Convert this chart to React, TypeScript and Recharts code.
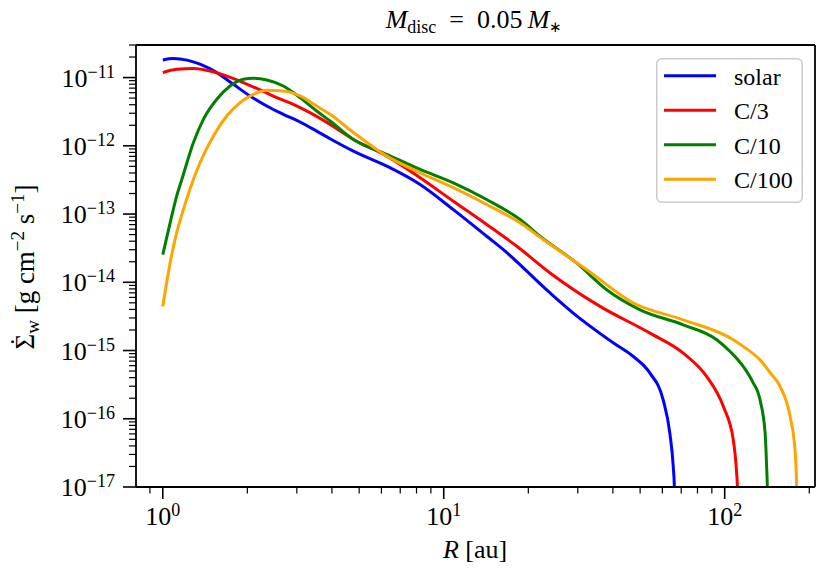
import { LineChart, Line, XAxis, YAxis, Legend, ReferenceLine } from 'recharts'

// R [au] and wind surface density rate [g cm^-2 s^-1]
const solarR = [1.0, 1.09, 1.22, 1.357, 1.557, 1.783, 2.045, 2.345, 2.686, 3.08, 3.53, 3.94, 4.77, 6.27, 8.24, 10.82, 14.22, 16.3, 23.9, 28.9, 40.2, 47.3, 54.2, 60.4, 63.8, 65.6, 66.2, 66.5]
const solarS = [1.81e-11, 1.9e-11, 1.8e-11, 1.57e-11, 1.18e-11, 7.97e-12, 5.37e-12, 3.83e-12, 2.89e-12, 2.23e-12, 1.64e-12, 1.27e-12, 8.36e-13, 5.04e-13, 2.71e-13, 1.16e-13, 4.72e-14, 3.01e-14, 6.97e-15, 3.54e-15, 1.29e-15, 8.17e-16, 4.66e-16, 1.89e-16, 6.12e-17, 1.98e-17, 1.0e-17, 1e-18]

const c3R = [1.0, 1.12, 1.285, 1.474, 1.689, 1.935, 2.22, 2.545, 2.916, 3.34, 3.94, 4.77, 6.27, 8.24, 10.82, 14.22, 18.2, 23.9, 36.0, 54.2, 71.2, 86.3, 98.9, 107.3, 110.3, 111.0, 111.3]
const c3S = [1.18e-11, 1.32e-11, 1.36e-11, 1.25e-11, 1.05e-11, 8.45e-12, 6.58e-12, 5.08e-12, 4.05e-12, 3.06e-12, 2.06e-12, 1.24e-12, 7.06e-13, 3.4e-13, 1.54e-13, 7.02e-14, 3.37e-14, 1.37e-14, 4.43e-15, 1.8e-15, 9.16e-16, 4.15e-16, 1.51e-16, 4.89e-17, 1.58e-17, 1.0e-17, 1e-18]

const c10R = [1.0, 1.062, 1.12, 1.169, 1.285, 1.395, 1.557, 1.736, 1.935, 2.1, 2.345, 2.686, 3.08, 3.53, 3.94, 4.77, 6.27, 8.24, 10.82, 14.22, 18.7, 22.0, 29.7, 38.0, 50.0, 71.2, 93.7, 104.5, 116.5, 125.6, 133.6, 139.3, 141.0, 141.8, 142.2]
const c10S = [2.54e-14, 7.43e-14, 1.82e-13, 3.21e-13, 1.11e-12, 2.44e-12, 4.8e-12, 7.53e-12, 9.44e-12, 9.77e-12, 9.22e-12, 7.53e-12, 5.08e-12, 3.24e-12, 2.31e-12, 1.24e-12, 7.48e-13, 4.5e-13, 2.87e-13, 1.63e-13, 8.3e-14, 4.72e-14, 1.92e-14, 7.78e-15, 3.95e-15, 2.38e-15, 1.44e-15, 9.66e-16, 5.82e-16, 3.51e-16, 1.89e-16, 6.12e-17, 1.98e-17, 1.0e-17, 1e-18]

const c100R = [1.0, 1.062, 1.12, 1.184, 1.285, 1.357, 1.514, 1.689, 1.884, 2.1, 2.345, 2.686, 3.08, 3.53, 3.94, 4.77, 6.27, 8.24, 10.82, 14.22, 18.7, 22.6, 32.3, 47.3, 71.2, 107.3, 120.0, 133.6, 145.0, 157.5, 171.0, 177.9, 180.4, 180.8]
const c100S = [4.43e-15, 1.92e-14, 5.3e-14, 1.16e-13, 3.21e-13, 5.65e-13, 1.39e-12, 2.73e-12, 4.3e-12, 5.69e-12, 6.52e-12, 6.36e-12, 5.37e-12, 3.83e-12, 2.89e-12, 1.57e-12, 7.06e-13, 4.03e-13, 2.43e-13, 1.38e-13, 7.43e-14, 4.23e-14, 1.53e-14, 4.97e-15, 2.82e-15, 1.44e-15, 1.05e-15, 7.29e-16, 4.75e-16, 2.96e-16, 1.07e-16, 3.48e-17, 1.0e-17, 1e-18]

const seriesNames = ['solar', 'C/3', 'C/10', 'C/100']

const xMajor = [1, 10, 100]
const yMajor = [1e-17, 1e-16, 1e-15, 1e-14, 1e-13, 1e-12, 1e-11]
const xDomain = [0.803, 209.6]
const yDomain = [1e-17, 3.0e-11]

const FONT = '"Liberation Serif", "Times New Roman", serif'

const toRows = (rs: number[], ss: number[]) => rs.map((r, i) => ({ R: r, S: ss[i] }))

// log axes: majors plus 2..9 minors inside the domain
function logTicks(majors: number[], lo: number, hi: number) {
  const out: number[] = []
  for (const d of [majors[0] / 10, ...majors]) {
    for (let k = 1; k < 10; k++) {
      const v = Number((k * d).toPrecision(6))
      if (v >= lo && v <= hi) out.push(v)
    }
  }
  return out
}

const isMajor = (v: number) => Math.abs(Math.log10(v) - Math.round(Math.log10(v))) < 1e-6

function XTick({ x, y, payload }: any) {
  const v = payload.value
  const major = isMajor(v)
  return (
    <g>
      <line x1={x} x2={x} y1={y} y2={y + (major ? 12 : 6.5)} stroke="#000" strokeWidth={major ? 1.6 : 1.2} />
      {major && (
        <text x={x} y={y + 38} textAnchor="middle" fontFamily={FONT} fontSize={26} fill="#000">
          10<tspan dy={-9} fontSize={18}>{Math.round(Math.log10(v))}</tspan>
        </text>
      )}
    </g>
  )
}

function YTick({ x, y, payload }: any) {
  const v = payload.value
  const major = isMajor(v)
  return (
    <g>
      <line x1={x - (major ? 13 : 7)} x2={x} y1={y} y2={y} stroke="#000" strokeWidth={major ? 1.6 : 1.2} />
      {major && (
        <text x={x - 21} y={y + 9} textAnchor="end" fontFamily={FONT} fontSize={26} fill="#000">
          10<tspan dy={-9} fontSize={18}>{'\u2212' + Math.abs(Math.round(Math.log10(v)))}</tspan>
        </text>
      )}
    </g>
  )
}

function LegendBox({ payload }: any) {
  const items = [...(payload ?? [])].sort((a: any, b: any) => seriesNames.indexOf(a.value) - seriesNames.indexOf(b.value))
  return (
    <svg width={147} height={145} style={{ display: 'block' }}>
      <rect x={0.75} y={0.75} width={145.5} height={143.5} rx={5} fill="#fff" fillOpacity={0.8} stroke="#cccccc" strokeWidth={1.5} />
      {items.map((p: any, i: number) => {
        const cy = 17.7 + i * 34.5
        return (
          <g key={p.value}>
            <line x1={8} x2={60} y1={cy} y2={cy} stroke={p.color} strokeWidth={3} />
            <text x={78} y={cy + 9} fontFamily={FONT} fontSize={24} fill="#000">{p.value}</text>
          </g>
        )
      })}
    </svg>
  )
}

export default function App() {
  const spine = { stroke: '#000', strokeWidth: 1.8 }
  return (
    <div style={{ position: 'absolute', left: 0, top: 0, background: '#fff' }}>
      <LineChart width={830} height={579} margin={{ top: 45, right: 15, bottom: 0, left: 0 }}>
        <XAxis
          dataKey="R"
          type="number"
          scale="log"
          domain={xDomain}
          allowDataOverflow
          ticks={logTicks(xMajor, xDomain[0], xDomain[1])}
          interval={0}
          tickSize={0}
          tickMargin={0}
          tickLine={false}
          axisLine={spine}
          tick={<XTick />}
          height={92}
        />
        <YAxis
          type="number"
          scale="log"
          domain={yDomain}
          allowDataOverflow
          ticks={logTicks(yMajor, yDomain[0], yDomain[1])}
          interval={0}
          tickSize={0}
          tickMargin={0}
          tickLine={false}
          axisLine={spine}
          tick={<YTick />}
          width={136}
        />
        <ReferenceLine y={yDomain[1]} {...spine} />
        <ReferenceLine x={xDomain[1]} {...spine} />
        <Line data={toRows(solarR, solarS)} dataKey="S" name={seriesNames[0]} type="monotone" stroke="#0000ff" strokeWidth={3} dot={false} activeDot={false} isAnimationActive={false} />
        <Line data={toRows(c3R, c3S)} dataKey="S" name={seriesNames[1]} type="monotone" stroke="#ff0000" strokeWidth={3} dot={false} activeDot={false} isAnimationActive={false} />
        <Line data={toRows(c10R, c10S)} dataKey="S" name={seriesNames[2]} type="monotone" stroke="#008000" strokeWidth={3} dot={false} activeDot={false} isAnimationActive={false} />
        <Line data={toRows(c100R, c100S)} dataKey="S" name={seriesNames[3]} type="monotone" stroke="#ffa500" strokeWidth={3} dot={false} activeDot={false} isAnimationActive={false} />
        <Legend
          layout="vertical"
          align="center"
          verticalAlign="middle"
          wrapperStyle={{ left: 656, top: 58, width: 147, height: 145 }}
          content={<LegendBox />}
        />
        <text x={474} y={28} textAnchor="middle" fontFamily={FONT} fontSize={26} fill="#000">
          <tspan fontStyle="italic">M</tspan>
          <tspan fontSize={18} dy={5}>disc</tspan>
          <tspan dy={-5}>{'\u2002=\u20020.05\u2009'}</tspan>
          <tspan fontStyle="italic">M</tspan>
          <tspan fontSize={15} dy={4}>{'\u2217'}</tspan>
        </text>
        <text x={475} y={558} textAnchor="middle" fontFamily={FONT} fontSize={26} fill="#000">
          <tspan fontStyle="italic">R</tspan> [au]
        </text>
        <text x={33.5} y={267} transform="rotate(-90 33.5 267)" textAnchor="middle" fontFamily={FONT} fontSize={27} fill="#000">
          {'\u03A3'}
          <tspan dx={-12.5} dy={-5}>{'\u02D9'}</tspan>
          <tspan dx={3.5} dy={10}fontSize={19}>w</tspan>
          <tspan dy={-5}>{' [g cm'}</tspan>
          <tspan fontSize={19} dy={-10}>{'\u22122'}</tspan>
          <tspan dy={10}>{' s'}</tspan>
          <tspan fontSize={19} dy={-10}>{'\u22121'}</tspan>
          <tspan dy={10}>]</tspan>
        </text>
      </LineChart>
    </div>
  )
}
